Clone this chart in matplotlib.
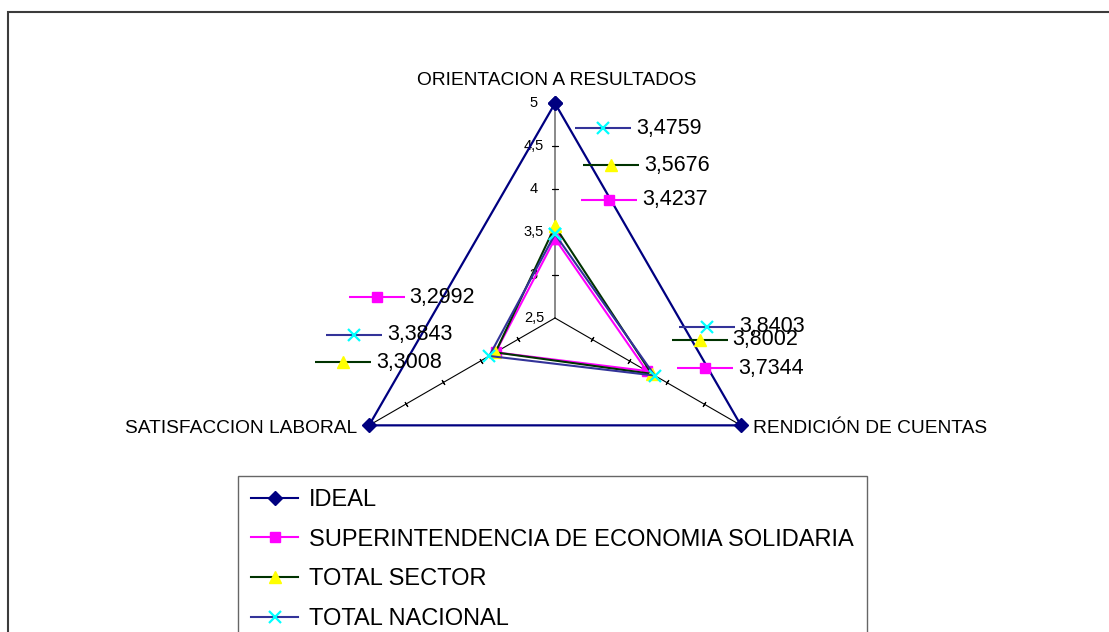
import numpy as np
import matplotlib
matplotlib.use("Agg")
import matplotlib.pyplot as plt
from matplotlib.lines import Line2D
from matplotlib.patches import Rectangle
from matplotlib.transforms import ScaledTranslation

plt.rcParams['font.family'] = ['Liberation Sans', 'DejaVu Sans']

# ---------------- data ----------------
categories = ['ORIENTACION A RESULTADOS', 'RENDICIÓN DE CUENTAS', 'SATISFACCION LABORAL']
ideal = [5.0, 5.0, 5.0]
superintendencia = [3.4237, 3.7344, 3.2992]
total_sector = [3.5676, 3.8002, 3.3008]
total_nacional = [3.4759, 3.8403, 3.3843]
series_names = ['IDEAL', 'SUPERINTENDENCIA DE ECONOMIA SOLIDARIA', 'TOTAL SECTOR', 'TOTAL NACIONAL']
r_ticks = [2.5, 3, 3.5, 4, 4.5, 5]
r_tick_labels = ['2,5', '3', '3,5', '4', '4,5', '5']

# ---------------- styles ----------------
styles = [
    dict(color='#000080', marker='D', ms=7, mfc='#000080', mec='#000080', mew=1),
    dict(color='#FF00FF', marker='s', ms=7, mfc='#FF00FF', mec='#FF00FF', mew=1),
    dict(color='#003300', marker='^', ms=9, mfc='#FFFF00', mec='#FFFF00', mew=1),
    dict(color='#333399', marker='x', ms=8, mfc='#00FFFF', mec='#00FFFF', mew=1.6),
]
# data-label key offsets in pixels (dx, dy up) per category: top, right, left
label_offsets = {
    1: [(54, 39), (58, 3), (-119, 55)],
    2: [(56, 61), (48, 34), (-152, -10)],
    3: [(48, 106), (52, 49), (-135, 21)],
}

fig = plt.figure(figsize=(11.09, 6.32), dpi=100)
W, H = 1109, 632
cx, cy, R = 555, 318, 214.7
ax = fig.add_axes([(cx - R) / W, (H - cy - R) / H, 2 * R / W, 2 * R / H], projection='polar')
ax.set_theta_zero_location('N')
ax.set_theta_direction(-1)
ax.set_ylim(2.5, 5)
ax.axis('off')

angles = np.deg2rad([0, 120, 240])

# spokes and ticks
for i, a in enumerate(angles):
    col = '#808080' if i == 0 else 'black'
    lw = 1.3 if i == 0 else 0.8
    ax.plot([a, a], [2.5, 5], color=col, lw=lw, clip_on=False, zorder=1)
    rot = 90 - np.rad2deg(a)
    ax.plot([a] * 4, r_ticks[1:5], ls='none', marker=(2, 2, rot), ms=5 if i == 0 else 4,
            mec='black', mew=0.8, clip_on=False, zorder=1)

for v, lab in zip(r_ticks, r_tick_labels):
    ax.annotate(lab, xy=(0, v), xytext=(-21, 0), textcoords='offset pixels',
                ha='center', va='center', fontsize=10.5, color='black')

# category labels
cat_offsets = [((2, 23), 'center'), ((12, -3), 'left'), ((-12, -3), 'right')]
for a, name, (off, ha) in zip(angles, categories, cat_offsets):
    ax.annotate(name, xy=(a, 5), xytext=off, textcoords='offset pixels',
                ha=ha, va='center', fontsize=13.8, color='black')

# series
all_series = [ideal, superintendencia, total_sector, total_nacional]
closed = np.concatenate([angles, angles[:1]])
for k, (vals, st) in enumerate(zip(all_series, styles)):
    ax.plot(closed, list(vals) + [vals[0]], lw=1.6 if k == 0 else 1.5, clip_on=False,
            zorder=3 + k, **st)

# data labels with legend keys
for k in [1, 2, 3]:
    st = styles[k]
    for j, a in enumerate(angles):
        v = all_series[k][j]
        dx, dy = label_offsets[k][j]
        tr = ax.transData + ScaledTranslation(dx / 100, dy / 100, fig.dpi_scale_trans)
        ax.plot([a], [v], transform=tr, marker='_', ms=40, mew=1.5, color=st['color'],
                clip_on=False, zorder=10)
        ax.plot([a], [v], transform=tr, ls='none', marker=st['marker'], ms=st['ms'],
                mfc=st['mfc'], mec=st['mec'], mew=st['mew'], clip_on=False, zorder=11)
        ax.annotate(f"{v:.4f}".replace('.', ','), xy=(a, v), xytext=(dx + 33, dy),
                    textcoords='offset pixels', ha='left', va='center',
                    fontsize=15.5, color='black', zorder=12)

# legend
handles = [Line2D([], [], lw=1.5, **st) for st in styles]
leg = fig.legend(handles, series_names, loc='upper left',
                 bbox_to_anchor=(238 / W, 1 - 476 / H), bbox_transform=fig.transFigure,
                 fontsize=17, frameon=True, fancybox=False, borderaxespad=0,
                 borderpad=0.55, handlelength=2.0, handletextpad=0.45,
                 labelspacing=0.75, numpoints=1)
leg.get_frame().set_edgecolor('#404040')
leg.get_frame().set_linewidth(1.0)

# outer chart border (extends past right and bottom)
fig.add_artist(Rectangle((8 / W, -0.1), 1.2, 1 - 12 / H + 0.1, transform=fig.transFigure,
                         fill=False, ec='#3c3c3c', lw=1.5))

fig.savefig('out.png', dpi=100)
